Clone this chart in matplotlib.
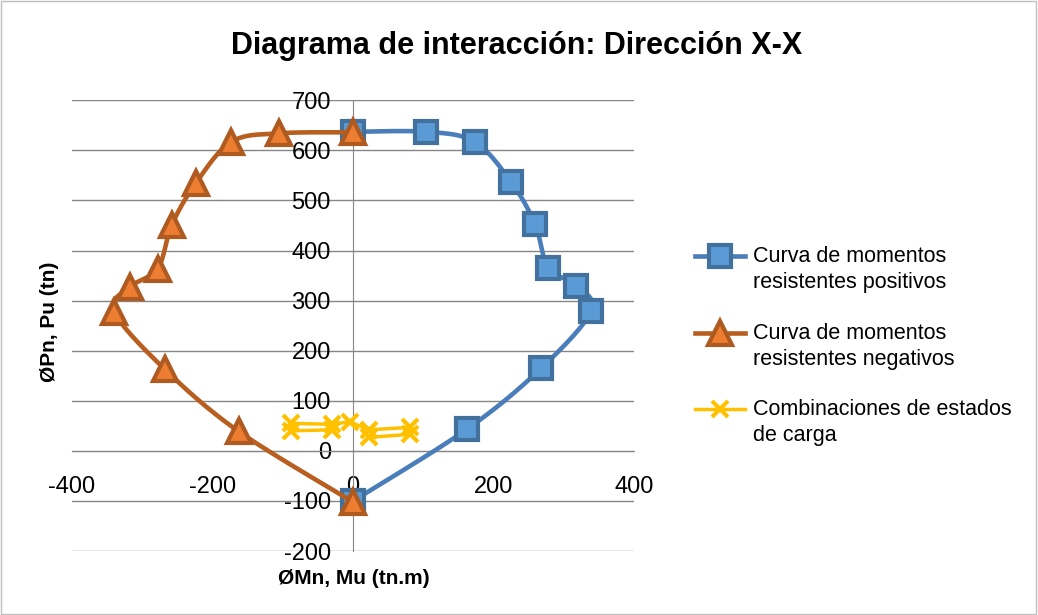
import matplotlib.pyplot as plt
import numpy as np
from matplotlib.lines import Line2D
from matplotlib.patches import Rectangle

mom_pos = [0, 104, 173, 225, 259, 278, 318, 339, 268, 162, 0]
p_pos = [637, 637, 617, 537, 453, 366, 330, 279, 165, 43, -100]
mom_neg = [0, -105, -173, -224, -258, -278, -318, -340, -268, -163, 0]
p_neg = [636, 634, 617, 534, 451, 364, 327, 278, 163, 39, -102]
mom_comb = [-30, -88, -88, -30, -5, 23, 81, 81, 23]
p_comb = [42, 40, 55, 53, 58, 42, 47, 33, 27]

labels = ["Curva de momentos\nresistentes positivos",
          "Curva de momentos\nresistentes negativos",
          "Combinaciones de estados\nde carga"]

plt.rcParams["font.family"] = ["Liberation Sans", "DejaVu Sans"]
plt.rcParams["axes.unicode_minus"] = False


def smooth(x, y, n=24):
    # catmull-rom, como la linea suavizada de Excel
    x = np.asarray(x, float); y = np.asarray(y, float)
    px = np.concatenate([[x[0]], x, [x[-1]]])
    py = np.concatenate([[y[0]], y, [y[-1]]])
    xs, ys = [], []
    t = np.linspace(0, 1, n, endpoint=False)
    for i in range(1, len(px) - 2):
        for a, b, c, d, out in ((px[i-1], px[i], px[i+1], px[i+2], xs),
                                (py[i-1], py[i], py[i+1], py[i+2], ys)):
            m1 = (c - a) / 6; m2 = (d - b) / 6
            out.extend((1-t)**3*b + 3*(1-t)**2*t*(b+m1) + 3*(1-t)*t**2*(c-m2) + t**3*c)
    xs.append(x[-1]); ys.append(y[-1])
    return xs, ys


fig = plt.figure(figsize=(10.38, 6.15), dpi=100)
fig.patches.append(Rectangle((0.001, 0.002), 0.997, 0.996, transform=fig.transFigure,
                             fill=False, edgecolor="#bfbfbf", lw=1))
ax = fig.add_axes([0.0694, 0.104, 0.5414, 0.733])

blue_line, blue_face, blue_edge = "#4a7ebb", "#5b9bd5", "#41719c"
org_line, org_face, org_edge = "#b85f20", "#ed7d31", "#ae5a21"
yel = "#ffc000"

st_pos = dict(color=blue_line, lw=3.3, marker="s", ms=16, mfc=blue_face, mec=blue_edge, mew=3)
st_neg = dict(color=org_line, lw=3.3, marker="^", ms=17, mfc=org_face, mec=org_edge, mew=3)
st_comb = dict(color=yel, lw=2.5, marker="x", ms=11, mew=3)

sx, sy = smooth(mom_pos, p_pos)
ax.plot(sx, sy, color=blue_line, lw=3.3, zorder=3)
ax.plot(mom_pos, p_pos, ls="none", marker="s", ms=16, mfc=blue_face, mec=blue_edge, mew=3, zorder=4)
sx, sy = smooth(mom_neg, p_neg)
ax.plot(sx, sy, color=org_line, lw=3.3, zorder=5)
ax.plot(mom_neg, p_neg, ls="none", marker="^", ms=17, mfc=org_face, mec=org_edge, mew=3, zorder=6)
ax.plot(mom_comb, p_comb, zorder=7, **st_comb)

# leyenda: simbolo alineado con la primera linea del texto, como en Excel
for k, (st, lab) in enumerate(zip([st_pos, st_neg, st_comb], labels)):
    yk = 1 - (256 + 76.5 * k) / 615
    fig.add_artist(Line2D([0.67, 0.6938, 0.7175], [yk] * 3, transform=fig.transFigure,
                          markevery=[1], **st))
    fig.text(0.7255, yk + 0.016, lab, ha="left", va="top", fontsize=15.5, linespacing=1.32)

ax.set_xlim(-400, 400)
ax.set_ylim(-200, 700)
ax.set_xticks([-400, -200, 0, 200, 400])
ax.set_yticks(range(-200, 701, 100))
ax.yaxis.grid(True, color="#868686", lw=1)
ax.set_axisbelow(True)
for s in ["top", "right"]:
    ax.spines[s].set_visible(False)
ax.spines["left"].set_position(("data", 0))
ax.spines["bottom"].set_position(("data", 0))
ax.spines["left"].set_color("#868686")
ax.spines["bottom"].set_color("#868686")
ax.tick_params(axis="both", length=0, labelsize=17)
ax.tick_params(axis="x", pad=18)
ax.tick_params(axis="y", pad=16)

fig.text(0.498, 0.925, "Diagrama de interacción: Dirección X-X", ha="center", va="center",
         fontsize=22, fontweight="bold")
fig.text(0.048, 0.476, "ØPn, Pu (tn)", rotation=90, ha="center", va="center",
         fontsize=15, fontweight="bold")
fig.text(0.341, 0.06, "ØMn, Mu (tn.m)", ha="center", va="center",
         fontsize=15, fontweight="bold")

fig.savefig("out.png", dpi=100)
